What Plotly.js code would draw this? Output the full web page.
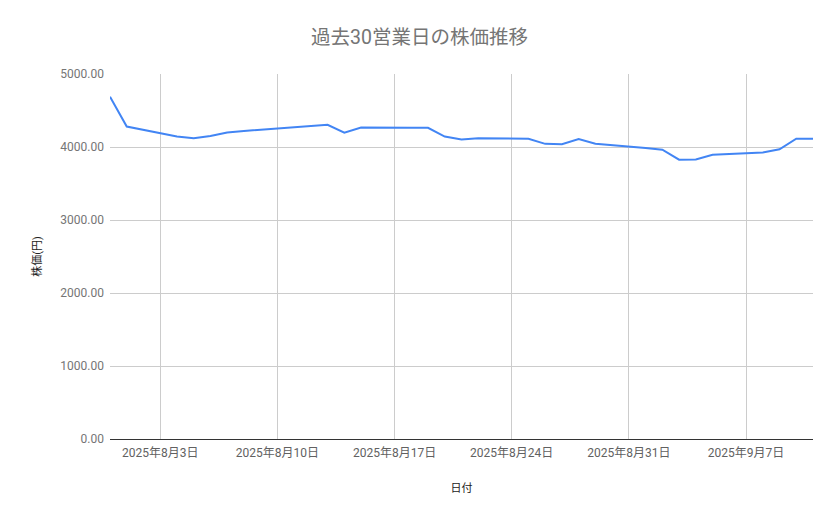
<!DOCTYPE html>
<html>
<head>
<meta charset="utf-8">
<script src="https://cdn.plot.ly/plotly-3.0.1.min.js"></script>
<style>
  html, body { margin: 0; padding: 0; background: #fff; }
  #chart { width: 839px; height: 519px; }
</style>
</head>
<body>
<div id="chart"></div>
<script>
// 過去30営業日の終値(円)
const dates = [
  '2025-07-31', '2025-08-01', '2025-08-04', '2025-08-05', '2025-08-06',
  '2025-08-07', '2025-08-08', '2025-08-12', '2025-08-13', '2025-08-14',
  '2025-08-15', '2025-08-18', '2025-08-19', '2025-08-20', '2025-08-21',
  '2025-08-22', '2025-08-25', '2025-08-26', '2025-08-27', '2025-08-28',
  '2025-08-29', '2025-09-01', '2025-09-02', '2025-09-03', '2025-09-04',
  '2025-09-05', '2025-09-08', '2025-09-09', '2025-09-10', '2025-09-11',
];
const prices = [
  4690, 4280, 4145, 4120, 4150,
  4200, 4220, 4285, 4305, 4195,
  4268, 4265, 4262, 4143, 4102,
  4120, 4112, 4043, 4038, 4110,
  4045, 3985, 3963, 3826, 3828,
  3893, 3925, 3968, 4113, 4113,
];
const tickDates = ['2025-08-03', '2025-08-10', '2025-08-17', '2025-08-24', '2025-08-31', '2025-09-07'];
const tickLabels = ['2025年8月3日', '2025年8月10日', '2025年8月17日', '2025年8月24日', '2025年8月31日', '2025年9月7日'];

const font = 'Roboto, "Noto Sans CJK JP", sans-serif';

Plotly.newPlot('chart', [{
  x: dates,
  y: prices,
  type: 'scatter',
  mode: 'lines',
  line: { color: '#4285F4', width: 2 },
  hoverinfo: 'x+y',
}], {
  width: 839,
  height: 519,
  margin: { l: 110, r: 26, t: 74, b: 80 },
  paper_bgcolor: '#fff',
  plot_bgcolor: '#fff',
  font: { family: font, color: '#757575', size: 12 },
  title: {
    text: '過去30営業日の株価推移',
    font: { family: font, size: 19.5, color: '#757575' },
    x: 0.5,
    xanchor: 'center',
    y: 0.928,
    yanchor: 'middle',
  },
  showlegend: false,
  xaxis: {
    type: 'date',
    range: ['2025-07-31', '2025-09-11'],
    tickvals: tickDates,
    ticktext: tickLabels,
    showgrid: true,
    gridcolor: '#cccccc',
    gridwidth: 1,
    showline: true,
    linecolor: '#333333',
    linewidth: 1,
    ticks: '',
    ticklabelstandoff: 3,
    tickfont: { family: font, size: 12, color: '#616161' },
    title: { text: '日付', font: { family: font, size: 11, color: '#222222' }, standoff: 24 },
    zeroline: false,
  },
  yaxis: {
    range: [0, 5000],
    dtick: 1000,
    tick0: 0,
    tickformat: '.2f',
    showgrid: true,
    gridcolor: '#cccccc',
    gridwidth: 1,
    zeroline: false,
    showline: false,
    ticks: '',
    ticklabelstandoff: 5,
    tickfont: { family: font, size: 12, color: '#757575' },
    title: { text: '株価(円)', font: { family: font, size: 11, color: '#222222' }, standoff: 16 },
  },
}, { displayModeBar: false, staticPlot: true });
</script>
</body>
</html>
